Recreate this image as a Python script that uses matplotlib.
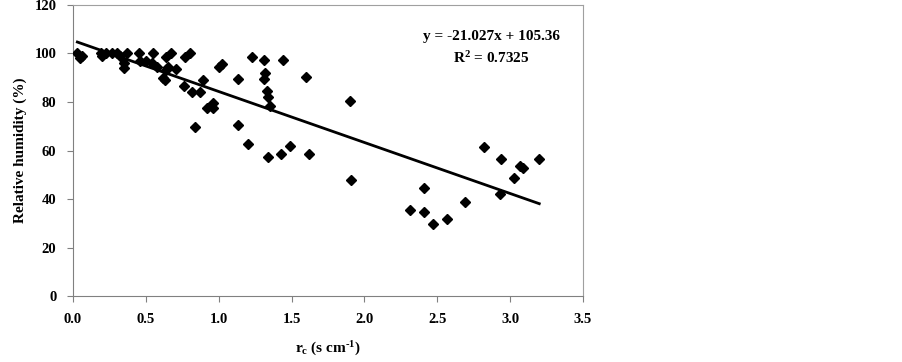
import numpy as np
import matplotlib
matplotlib.use("Agg")
import matplotlib.pyplot as plt

plt.rcParams['font.family'] = 'Liberation Serif'
plt.rcParams['font.weight'] = 'bold'
plt.rcParams['mathtext.fontset'] = 'custom'
plt.rcParams['mathtext.rm'] = 'Liberation Serif:bold'
plt.rcParams['mathtext.it'] = 'Liberation Serif:bold'
plt.rcParams['mathtext.bf'] = 'Liberation Serif:bold'

# canopy resistance rc (s cm-1) vs relative humidity (%)
rc = [0.03, 0.05, 0.06, 0.19, 0.20, 0.23, 0.27, 0.30, 0.32, 0.35, 0.35, 0.37,
      0.45, 0.46, 0.50, 0.55, 0.54, 0.58, 0.62, 0.63, 0.64, 0.64, 0.67, 0.65,
      0.71, 0.76, 0.77, 0.80, 0.82, 0.87, 0.89, 0.84, 0.92, 0.96, 0.96, 1.00,
      1.02, 1.13, 1.13, 1.20, 1.23, 1.31, 1.32, 1.31, 1.33, 1.34, 1.35, 1.34,
      1.43, 1.44, 1.49, 1.60, 1.62, 1.90, 1.91, 2.31, 2.41, 2.41, 2.47, 2.57,
      2.69, 2.82, 2.93, 2.94, 3.03, 3.07, 3.09, 3.20]
rh = [100.0, 98.0, 99.0, 100.0, 99.0, 100.0, 100.0, 100.0, 99.0, 96.0, 94.0, 100.0,
      100.0, 97.0, 97.0, 100.0, 96.0, 94.5, 90.0, 89.0, 93.0, 98.5, 100.0, 94.5,
      93.6, 86.6, 98.5, 100.0, 84.0, 84.0, 89.0, 69.5, 77.4, 77.4, 79.5, 94.5,
      95.6, 89.5, 70.5, 62.6, 98.5, 97.3, 92.0, 89.5, 84.5, 82.0, 78.3, 57.3,
      58.4, 97.3, 61.9, 90.3, 58.4, 80.4, 47.8, 35.4, 44.6, 34.5, 29.6, 31.6,
      38.8, 61.6, 42.0, 56.4, 48.5, 53.6, 52.7, 56.4]

slope, intercept = -21.027, 105.36
fit_x = np.array([min(rc), max(rc)])

fig = plt.figure(figsize=(9.02, 3.62), dpi=100)
ax = fig.add_axes([0.0809, 0.1823, 0.5654, 0.8039])

ax.plot(rc, rh, 'D', color='black', markersize=5.5, zorder=3)
ax.plot(fit_x, slope * fit_x + intercept, color='black', linewidth=2)

ax.text(2.87, 107, 'y = -21.027x + 105.36', ha='center', va='center', fontsize=11)
ax.text(2.87, 98, r'R$^{2}$ = 0.7325', ha='center', va='center', fontsize=11)

ax.set_xlim(0, 3.5)
ax.set_ylim(0, 120)
ax.set_xticks(np.arange(0, 3.51, 0.5))
ax.set_yticks(np.arange(0, 121, 20))
ax.set_xticklabels(['%.1f' % v for v in np.arange(0, 3.51, 0.5)])
ax.tick_params(direction='out', length=4, color='#808080', labelsize=10.5, pad=8)
for lab in ax.get_xticklabels() + ax.get_yticklabels():
    lab.set_fontweight('bold')

for s in ['left', 'bottom']:
    ax.spines[s].set_color('#808080')
for s in ['top', 'right']:
    ax.spines[s].set_color('#a0a0a0')

ax.set_xlabel('r$_\\mathregular{c}$ (s cm$^{\u2010 1}$)', fontsize=11, fontweight='bold', labelpad=10)
ax.set_ylabel('Relative humidity (%)', fontsize=11, fontweight='bold', labelpad=5)

fig.savefig('out.png', dpi=100)
